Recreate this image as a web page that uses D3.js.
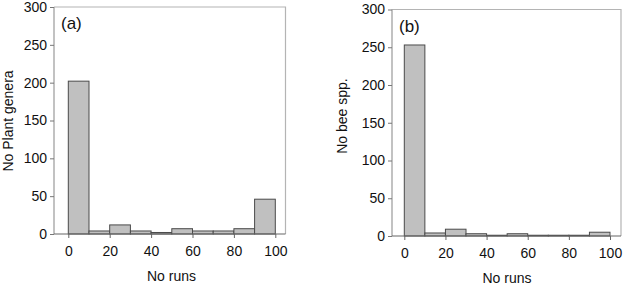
<!DOCTYPE html>
<html>
<head>
<meta charset="utf-8">
<script src="https://cdn.jsdelivr.net/npm/d3@7"></script>
<style>
  body { margin: 0; background: #fff; }
  svg { font-family: "Liberation Sans", Arial, sans-serif; }
</style>
</head>
<body>
<svg id="chart" width="625" height="288"></svg>
<script>
// bin edges shared by both histograms
const binStarts = [0, 10, 20, 30, 40, 50, 60, 70, 80, 90];
const binWidth = 10;
const plantCounts = [202, 4, 12, 4, 2, 7, 4, 4, 7, 46];
const beeCounts = [253, 4, 9, 3, 1, 3, 1, 1, 1, 5];
const xTicks = [0, 20, 40, 60, 80, 100];
const yTicks = [0, 50, 100, 150, 200, 250, 300];

const svg = d3.select("#chart");

function panel(o) {
  const g = svg.append("g");
  const x = d3.scaleLinear().domain([0, 100]).range([o.x0, o.x100]);
  const y = d3.scaleLinear().domain([0, 300]).range([o.y0, o.y300]);

  // frame top / right
  g.append("path")
    .attr("d", `M${o.left},${o.y300}H${o.right}V${o.y0}`)
    .attr("fill", "none").attr("stroke", "#b4b4b4").attr("stroke-width", 1.2);

  // bars
  g.selectAll("rect").data(o.counts).enter().append("rect")
    .attr("x", (d, i) => x(binStarts[i]))
    .attr("width", (d, i) => x(binStarts[i] + binWidth) - x(binStarts[i]))
    .attr("y", d => y(d))
    .attr("height", d => y(0) - y(d))
    .attr("fill", "#c0c0c0")
    .attr("stroke", "#4a4a4a")
    .attr("stroke-width", 1);

  // left axis
  const ya = g.append("g").attr("transform", `translate(${o.left},0)`)
    .call(d3.axisLeft(y).tickValues(yTicks).tickSize(4).tickPadding(3));
  ya.select(".domain").attr("stroke", "#999").attr("stroke-width", 1.2)
    .attr("d", `M0,${o.y300}V${o.y0}`);
  ya.selectAll(".tick line").attr("stroke", "#777");
  ya.selectAll("text").attr("font-size", 14).attr("fill", "#111");

  // bottom axis
  const xa = g.append("g").attr("transform", `translate(0,${o.y0})`)
    .call(d3.axisBottom(x).tickValues(xTicks).tickSize(4).tickPadding(8));
  xa.select(".domain").attr("stroke", "#666").attr("stroke-width", 1.2)
    .attr("d", `M${o.left},0H${o.right}`);
  xa.selectAll(".tick line").attr("stroke", "#666");
  xa.selectAll("text").attr("font-size", 14).attr("fill", "#111");

  g.append("text").attr("x", o.left + 7).attr("y", o.y300 + 22)
    .attr("font-size", 17).attr("fill", "#111").text(o.tag);

  g.append("text")
    .attr("transform", `translate(${o.ytx},${o.yty}) rotate(-90)`)
    .attr("text-anchor", "middle").attr("font-size", 14).attr("fill", "#111")
    .text(o.ytitle);

  g.append("text").attr("x", o.xtx).attr("y", o.xty)
    .attr("text-anchor", "middle").attr("font-size", 14).attr("fill", "#111")
    .text("No runs");
}

panel({
  counts: plantCounts, tag: "(a)", ytitle: "No Plant genera",
  x0: 68.3, x100: 275.3, y0: 234, y300: 7, left: 54, right: 285.5,
  ytx: 12.5, yty: 121, xtx: 171.5, xty: 280.5
});

panel({
  counts: beeCounts, tag: "(b)", ytitle: "No bee spp.",
  x0: 404.3, x100: 610, y0: 236, y300: 9.5, left: 392, right: 621,
  ytx: 347, yty: 116, xtx: 507, xty: 282.5
});
</script>
</body>
</html>
